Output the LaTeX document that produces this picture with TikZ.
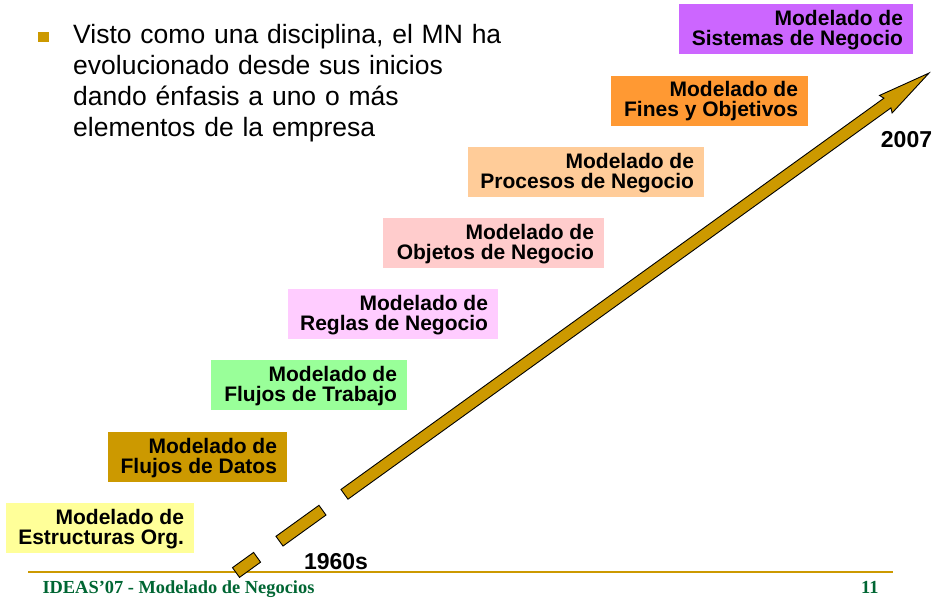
\documentclass[tikz,border=0pt]{standalone}
\usepackage{fontspec}
\setmainfont{Liberation Sans}
\newfontfamily\footfont{Liberation Serif}
\definecolor{gold}{HTML}{CC9900}
\definecolor{cSis}{HTML}{CC66FF}
\definecolor{cFin}{HTML}{FF9933}
\definecolor{cPro}{HTML}{FFCC99}
\definecolor{cObj}{HTML}{FFCCCC}
\definecolor{cReg}{HTML}{FFCCFF}
\definecolor{cTra}{HTML}{99FF99}
\definecolor{cDat}{HTML}{CC9900}
\definecolor{cEst}{HTML}{FFFF99}
\definecolor{footgreen}{RGB}{0,102,51}
\begin{document}
\begin{tikzpicture}[x=1pt,y=-1pt,
  box/.style={rectangle, inner sep=0pt, minimum height=50pt,
    text height=17pt, text depth=25pt, align=flush right,
    font=\bfseries\fontsize{21}{20}\selectfont},
  year/.style={anchor=base, font=\bfseries\fontsize{23}{23}\selectfont},
  arrowpart/.style={fill=gold, draw=black, line width=0.9pt, line join=miter},
  foot/.style={anchor=base, text=footgreen, font=\footfont\bfseries\fontsize{18.4}{18.4}\selectfont}]
\useasboundingbox (0,0) rectangle (937,598);
\fill[white] (0,0) rectangle (937,598);

% bullet and text
\node[fill=gold, minimum width=11pt, minimum height=10pt, inner sep=0pt] (bullet) at (43.5,37) {};
\node[anchor=base west, inner sep=0pt, text width=450pt, align=left,
  font=\fontsize{26.5}{31.3}\selectfont] (intro) at (73,43)
  {Visto como una disciplina, el MN ha\\evolucionado desde sus inicios\\dando énfasis a uno o más\\elementos de la empresa};

% boxes
\node[box, fill=cSis, minimum width=234pt, text width=214pt] (sis) at (796,29) {Modelado de\\Sistemas de Negocio};
\node[box, fill=cFin, minimum width=197pt, text width=177pt] (fin) at (709.5,100.5) {Modelado de\\Fines y Objetivos};
\node[box, fill=cPro, minimum width=236pt, text width=216pt] (pro) at (586,172) {Modelado de\\Procesos de Negocio};
\node[box, fill=cObj, minimum width=221pt, text width=201pt] (obj) at (493.5,243) {Modelado de\\Objetos de Negocio};
\node[box, fill=cReg, minimum width=210pt, text width=190pt] (reg) at (393,314) {Modelado de\\Reglas de Negocio};
\node[box, fill=cTra, minimum width=196pt, text width=176pt] (tra) at (309,385) {Modelado de\\Flujos de Trabajo};
\node[box, fill=cDat, minimum width=179pt, text width=159pt] (dat) at (197.5,457) {Modelado de\\Flujos de Datos};
\node[box, fill=cEst, minimum width=188pt, text width=168pt] (est) at (100,528) {Modelado de\\Estructuras Org.};

% years
\node[year] (y2007) at (906.5,147) {2007};
\node[year] (y1960) at (336,569) {1960s};

% footer line
\coordinate (fl) at (28,571.5);
\coordinate (fr) at (893,571.5);
\draw[gold, line width=2pt] (fl) -- (fr);

% dashed arrow
\begin{scope}[shift={(236,572.5)}, rotate=35.78]
  \draw[arrowpart] (0,-6) rectangle (26,6);
  \draw[arrowpart] (53.6,-6) rectangle (106.6,6);
  \draw[arrowpart] (133.7,-6) -- (803,-6) -- (801,-10.8) -- (854.3,0)
     -- (801,10.8) -- (803,6) -- (133.7,6) -- cycle;
\end{scope}

% footer text
\node[foot, anchor=base west] (ftext) at (39,593) {IDEAS’07 - Modelado de Negocios};
\node[foot, anchor=base east] (fnum) at (882,593) {11};
\end{tikzpicture}
\end{document}
